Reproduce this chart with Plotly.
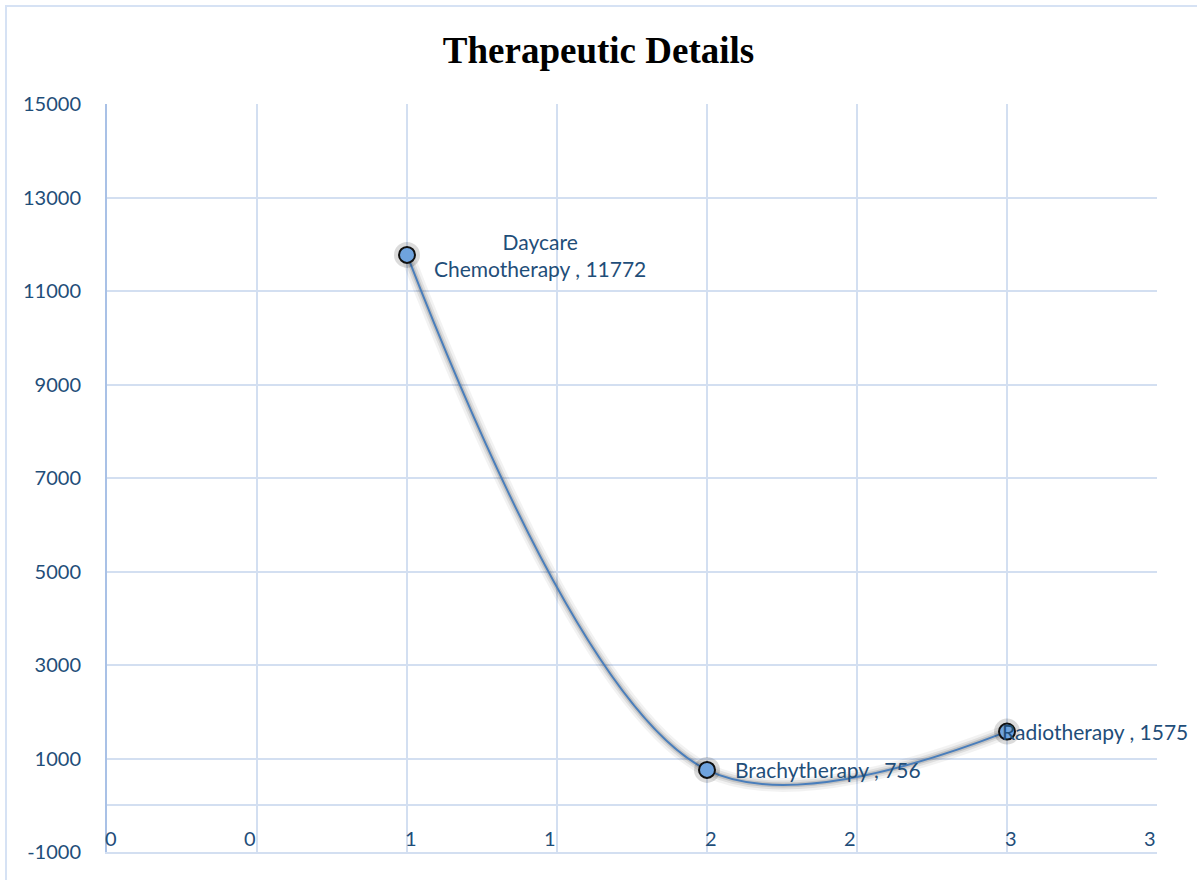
import plotly.graph_objects as go

categories = ["Daycare<br>Chemotherapy", "Brachytherapy", "Radiotherapy"]
x_vals = [1, 2, 3]
y_vals = [11772, 756, 1575]
y_ticks = [-1000, 1000, 3000, 5000, 7000, 9000, 11000, 13000, 15000]
y_tick_text = ["-1000", "1000", "3000", "5000", "7000", "9000", "11000", "13000", "15000"]
x_ticks = [0, 0.5, 1, 1.5, 2, 2.5, 3, 3.5]
x_tick_text = ["0", "0", "1", "1", "2", "2", "3", "3"]

text_color = "#1F4E79"
grid_color = "#D3DFF1"
font_family = "Lato, 'Open Sans', sans-serif"
smooth = 1.0

fig = go.Figure()

# soft shadow under the smoothed line
for w, op in [(14, 0.05), (9, 0.08), (5, 0.12)]:
    fig.add_trace(go.Scatter(
        x=x_vals, y=y_vals, mode="lines",
        line=dict(shape="spline", smoothing=smooth, width=w, color=f"rgba(0,0,0,{op})"),
        hoverinfo="skip", showlegend=False))

fig.add_trace(go.Scatter(
    x=x_vals, y=y_vals, mode="lines",
    line=dict(shape="spline", smoothing=smooth, width=2, color="#4A7EBB"),
    showlegend=False))

# marker shadow
fig.add_trace(go.Scatter(
    x=x_vals, y=y_vals, mode="markers",
    marker=dict(size=26, color="rgba(0,0,0,0.14)", line=dict(width=0)),
    hoverinfo="skip", showlegend=False))

fig.add_trace(go.Scatter(
    x=x_vals, y=y_vals, mode="markers",
    marker=dict(size=16, color="#6FA3DE", line=dict(width=2, color="#111111")),
    showlegend=False))

# data labels
label_shift = [25, 26, -7]
for cat, xv, yv, sh in zip(categories, x_vals, y_vals, label_shift):
    fig.add_annotation(
        x=xv, y=yv, xref="x", yref="y",
        text=f"{cat} , {yv}",
        showarrow=False, xanchor="left", yanchor="middle",
        xshift=sh, align="center",
        font=dict(family=font_family, size=21, color=text_color))

# x tick labels drawn inside the plot, just under the zero line
for xv, lab in zip(x_ticks, x_tick_text):
    fig.add_annotation(
        x=xv, y=-700, xref="x", yref="y", text=lab, showarrow=False,
        xanchor="center", yanchor="middle",
        xshift=(4 if xv == int(xv) else -7),
        font=dict(family=font_family, size=20, color=text_color))

fig.update_xaxes(
    range=[0, 3.5], tickvals=x_ticks, showticklabels=False,
    showgrid=True, gridcolor=grid_color, gridwidth=1.5,
    zeroline=False, showline=True, linecolor=grid_color, linewidth=2,
    mirror=False, fixedrange=True)

fig.update_yaxes(
    range=[-1000, 15000], tickvals=y_ticks, ticktext=y_tick_text,
    tickfont=dict(family=font_family, size=20, color=text_color),
    ticklabelstandoff=20,
    showgrid=True, gridcolor=grid_color, gridwidth=1.5,
    zeroline=True, zerolinecolor=grid_color, zerolinewidth=2,
    showline=True, linecolor="#A9C1E6", linewidth=2,
    ticks="", ticklen=0, fixedrange=True)

fig.update_layout(
    width=1197, height=880,
    paper_bgcolor="white", plot_bgcolor="white",
    margin=dict(l=107, r=40, t=104, b=28),
    title=dict(text="<b>Therapeutic Details</b>", x=0.5, xanchor="center",
               y=0.943, yanchor="middle",
               font=dict(family="'Liberation Serif', 'Times New Roman', serif", size=37, color="black")),
    shapes=[dict(type="rect", xref="paper", yref="paper",
                 x0=(6 - 107) / 1050, x1=(1210 - 107) / 1050,
                 y0=(852 - 900) / 748, y1=(852 - 6) / 748,
                 line=dict(color="#D6E2F4", width=2), layer="below")],
)

fig.write_html("out.html")
